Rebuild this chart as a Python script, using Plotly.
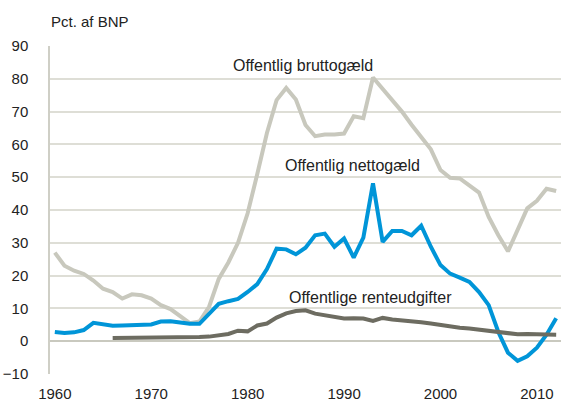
import plotly.graph_objects as go

years = list(range(1960, 2013))

bruttogaeld = [27, 23, 21.5, 20.5, 18.5, 16, 15, 13, 14.3, 14, 13, 11, 9.8, 7.5, 5.5, 6,
               10.5, 19, 24, 30, 39, 51, 63.5, 73.5, 77.2, 73.7, 65.9, 62.5, 63, 63,
               63.3, 68.6, 68, 80.4, 77, 73.5, 70, 66, 62, 58.5, 52.2, 49.8, 49.6, 47.6,
               45.3, 37.9, 32.3, 27.4, 33.8, 40.5, 42.8, 46.5, 45.8]

nettogaeld = [2.8, 2.5, 2.7, 3.4, 5.6, 5.1, 4.7, 4.8, 5.0, 5.0, 5.1, 6.0, 6.1, 5.7, 5.3, 5.3,
              8.3, 11.4, 12.2, 12.9, 15, 17.4, 22, 28.2, 28, 26.5, 28.5, 32.3, 32.8, 28.8,
              31.3, 25.5, 31.6, 48.1, 30.3, 33.6, 33.6, 32.3, 35.2, 28.8, 23.2, 20.6, 19.4,
              18.1, 15, 11, 2.8, -3.5, -6, -4.6, -2, 2, 7]

rente_years = list(range(1966, 2013))
renteudgifter = [1.0, 1.0, 1.1, 1.2, 1.3, 1.3, 1.3, 1.2, 1.2, 1.3, 1.4, 1.9, 2.2, 3.2, 3.0,
                 4.8, 5.4, 7.2, 8.5, 9.2, 9.4, 8.4, 7.9, 7.4, 6.9, 7.0, 6.9, 6.2, 7.1,
                 6.6, 6.4, 6.2, 5.8, 5.4, 4.9, 4.3, 4.1, 3.9, 3.6, 3.2, 2.7, 2.4, 2.1,
                 2.2, 2.2, 2.2, 2.0]

x_ticks = [1960, 1970, 1980, 1990, 2000, 2010]
y_ticks = [-10, 0, 10, 20, 30, 40, 50, 60, 70, 80, 90]

label_font = "Liberation Sans, Arial, sans-serif"
text_color = "#222222"

fig = go.Figure()
fig.add_trace(go.Scatter(x=years, y=bruttogaeld, mode="lines",
                         line=dict(color="#c8c8bd", width=4), name="Offentlig bruttogæld"))
fig.add_trace(go.Scatter(x=years, y=nettogaeld, mode="lines",
                         line=dict(color="#0095d8", width=4), name="Offentlig nettogæld"))
fig.add_trace(go.Scatter(x=rente_years, y=renteudgifter, mode="lines",
                         line=dict(color="#6d6c61", width=4), name="Offentlige renteudgifter"))

annotations = [
    dict(x=1985.7, y=84.1, text="Offentlig bruttogæld"),
    dict(x=1990.9, y=53.7, text="Offentlig nettogæld"),
    dict(x=1992.7, y=13.4, text="Offentlige renteudgifter"),
]
for a in annotations:
    a.update(xref="x", yref="y", showarrow=False,
             font=dict(family=label_font, size=16, color=text_color))
annotations.append(dict(xref="paper", yref="paper", x=0, y=1, xanchor="left", yanchor="middle",
                        yshift=25, xshift=-1, showarrow=False, text="Pct. af BNP",
                        font=dict(family=label_font, size=15, color=text_color)))

fig.update_layout(
    width=563, height=403,
    margin=dict(l=50, r=2, t=46, b=29, autoexpand=False),
    paper_bgcolor="white", plot_bgcolor="white",
    showlegend=False,
    annotations=annotations,
    font=dict(family=label_font, size=15, color=text_color),
    xaxis=dict(range=[1959.5, 2012.5], tickvals=x_ticks, showgrid=False, zeroline=False,
               showline=False, ticks="", ticklabelstandoff=9, automargin=False,
               tickfont=dict(family=label_font, size=15, color=text_color)),
    yaxis=dict(range=[-10, 90], tickvals=y_ticks, showgrid=True, gridcolor="#deded6",
               gridwidth=1.5, zeroline=True, zerolinecolor="#c9c9bf", zerolinewidth=2,
               showline=True, linecolor="#cfcfc6", linewidth=1.5, ticks="",
               ticklabelstandoff=17, automargin=False,
               tickfont=dict(family=label_font, size=15, color=text_color)),
)

fig.write_html("out.html", config={"displayModeBar": False},
               post_script="document.body.style.margin='0px';document.body.style.overflow='hidden';")
